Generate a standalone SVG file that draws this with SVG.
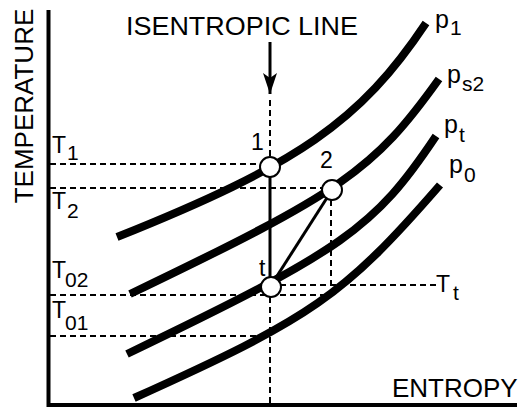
<svg xmlns="http://www.w3.org/2000/svg" width="525" height="409" viewBox="0 0 525 409">
<defs>
<style>
text{font-family:"Liberation Sans",Arial,Helvetica,sans-serif;fill:#000}
.big{font-size:26px}
.lab{font-size:23px}
.sub{font-size:21px}
.pp{font-size:25px}
.axis{stroke:#000;stroke-width:4;fill:none}
.iso{stroke:#000;stroke-width:8;fill:none;stroke-linecap:butt}
.dash{stroke:#000;stroke-width:2;stroke-dasharray:6 4;fill:none}
.solid{stroke:#000;stroke-width:3;fill:none}
.pt{fill:#fff;stroke:#000;stroke-width:2}
</style>
<marker id="ah" viewBox="0 0 21 14" refX="21" refY="7" markerWidth="21" markerHeight="14" markerUnits="userSpaceOnUse" orient="auto">
<path d="M0,0 L21,7 L0,14 L5,7 z" fill="#000"/>
</marker>
</defs>
<rect width="525" height="409" fill="#fff"/>
<g id="axes">
<line class="axis" x1="48.5" y1="10" x2="48.5" y2="407"/>
<line class="axis" x1="47" y1="405" x2="517" y2="405"/>
<text class="big" transform="translate(33,106) rotate(-90)" text-anchor="middle">TEMPERATURE</text>
<text class="big" x="392" y="397">ENTROPY</text>
</g>
<g id="connectors">
<line class="dash" x1="50" y1="164" x2="262" y2="164"/>
<line class="dash" x1="50" y1="188" x2="322" y2="188"/>
<line class="dash" x1="50" y1="295" x2="331" y2="295"/>
<line class="dash" x1="331" y1="200" x2="331" y2="295"/>
<line class="dash" x1="280" y1="285" x2="436" y2="285"/>
<line class="dash" x1="50" y1="336" x2="264" y2="336"/>
<line class="dash" x1="270" y1="100" x2="270" y2="157"/>
<line class="dash" x1="270" y1="297" x2="270" y2="403"/>
<line class="solid" x1="270" y1="42" x2="270" y2="94" stroke-width="2" marker-end="url(#ah)"/>
<line class="solid" x1="270" y1="167" x2="270" y2="287"/>
<line class="solid" x1="270" y1="287" x2="332" y2="190"/>
</g>
<g id="curve-p1">
<path class="iso" d="M117,237 C298.4,164.4 360.2,121.6 426,23"/>
<text class="pp" x="435" y="28">p</text><text class="sub" x="450" y="35">1</text>
</g>
<g id="curve-ps2">
<path class="iso" d="M130,294 C342.9,191.8 373.7,170.4 439,79"/>
<text class="pp" x="447" y="83">p</text><text class="sub" x="462" y="91">s2</text>
</g>
<g id="curve-pt">
<path class="iso" d="M127,354 C343.5,250 374.4,228.3 436,136"/>
<text class="pp" x="444" y="133">p</text><text class="sub" x="459" y="142">t</text>
</g>
<g id="curve-p0">
<path class="iso" d="M134,398 C312.6,317.6 343.2,296.3 440,185"/>
<text class="pp" x="449" y="173">p</text><text class="sub" x="464" y="182">0</text>
</g>
<g id="title">
<text class="big" x="126" y="35" textLength="232" lengthAdjust="spacingAndGlyphs">ISENTROPIC LINE</text>
</g>
<g id="labels">
<text class="lab" x="52" y="153">T</text><text class="sub" x="67" y="160">1</text>
<text class="lab" x="52" y="209">T</text><text class="sub" x="67" y="218">2</text>
<text class="lab" x="52" y="278">T</text><text class="sub" x="65" y="287">02</text>
<text class="lab" x="52" y="318">T</text><text class="sub" x="65" y="330">01</text>
<text class="lab" x="436" y="292">T</text><text class="sub" x="453" y="300">t</text>
</g>
<g id="point-1">
<circle class="pt" cx="270" cy="167" r="10"/>
<text class="lab" x="251" y="150">1</text>
</g>
<g id="point-2">
<circle class="pt" cx="332" cy="190" r="10"/>
<text class="lab" x="320" y="168">2</text>
</g>
<g id="point-t">
<circle class="pt" cx="271" cy="287" r="10"/>
<text class="lab" x="259" y="276">t</text>
</g>
</svg>
